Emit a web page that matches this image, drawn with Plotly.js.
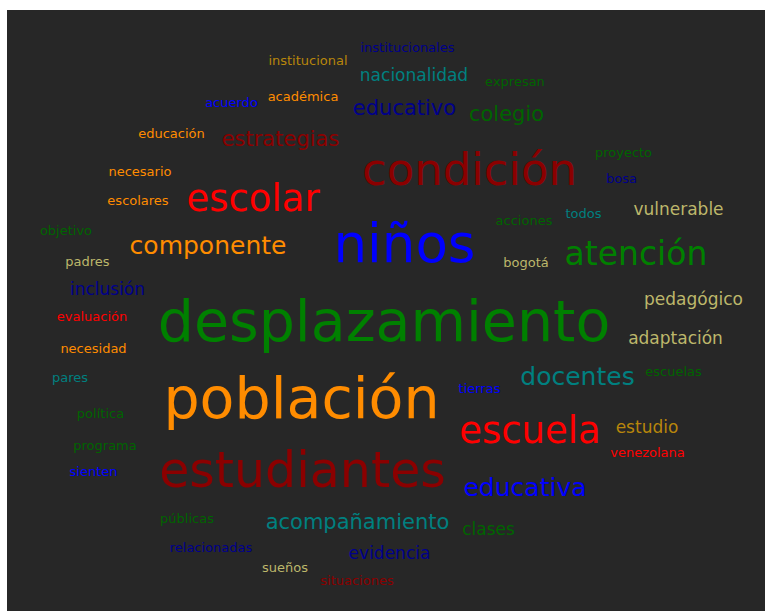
<!DOCTYPE html>
<html>
<head>
<meta charset="utf-8">
<script src="https://cdn.plot.ly/plotly-3.0.1.min.js"></script>
<style>html,body{margin:0;padding:0;background:#fff;}#chart{width:765px;height:611px;}</style>
</head>
<body>
<div id="chart"></div>
<script>
// Word cloud data: word, frequency weight, colour group, cloud position (x, baseline y)
var words = ["desplazamiento","población","niños","estudiantes","condición","escolar","escuela","atención","componente","docentes","educativa","acompañamiento","estrategias","educativo","colegio","nacionalidad","inclusión","vulnerable","pedagógico","adaptación","estudio","clases","evidencia","institucionales","institucional","expresan","acuerdo","académica","educación","proyecto","bosa","necesario","escolares","objetivo","padres","todos","acciones","bogotá","evaluación","necesidad","pares","política","programa","sienten","públicas","relacionadas","sueños","situaciones","escuelas","tierras","venezolana"];
var freq = [12,12,11,10,9,7,7,6,4,4,4,3,3,3,3,2,2,2,2,2,2,2,2,1,1,1,1,1,1,1,1,1,1,1,1,1,1,1,1,1,1,1,1,1,1,1,1,1,1,1,1];
var group = ["green","darkorange","blue","darkred","darkred","red","red","green","darkorange","teal","blue","teal","darkred","navy","darkgreen","teal","navy","darkkhaki","darkkhaki","darkkhaki","darkgoldenrod","darkgreen","navy","navy","darkgoldenrod","darkgreen","blue","darkorange","darkorange","darkgreen","navy","darkorange","darkorange","darkgreen","darkkhaki","teal","darkgreen","darkkhaki","red","darkorange","teal","darkgreen","darkgreen","blue","darkgreen","navy","darkkhaki","darkred","darkgreen","blue","red"];
var posX = [384,301.5,404.5,302.5,469.5,253,530,636,208,577.5,525,357.5,280.5,404.5,506.5,414,107.5,678.5,693.5,675.5,647,488.5,389.5,407.5,308,515,231.5,303,171.5,623.5,621.5,140,138,66,87.5,583.5,524,526,92,93.5,70,100.5,105,93.5,187,211,285,357,673.5,479.5,647.5];
var posBase = [341,418,262,487,185,211,443,265,254,385,496,529,146,115,121,81,295,215,305,344,433,535,559,52,65,86,107,101,138,157,183,176,205,235,266,218,225,267,321,353,382,418,450,476,523,552,572,585,376,393,457];

var palette = {
  green:"#008000", darkgreen:"#006400", teal:"#008080", navy:"#00008b", blue:"#0000ff",
  red:"#ff0000", darkred:"#8b0000", darkorange:"#ff8c00", darkkhaki:"#bdb76b", darkgoldenrod:"#b8860b"
};
var sizes = freq.map(function(f){ return 9 + 4*f; });
var colors = group.map(function(g){ return palette[g]; });
var ys = posBase.map(function(b,i){ return b - 0.25*sizes[i]; });

var trace = {
  type:"scatter", mode:"text",
  x: posX, y: ys, text: words,
  textposition:"middle center",
  textfont:{family:"DejaVu Sans, Verdana, sans-serif", size:sizes, color:colors},
  hoverinfo:"none", showlegend:false
};
var layout = {
  width:765, height:611,
  margin:{l:7,r:0,t:10,b:0,pad:0},
  paper_bgcolor:"#ffffff", plot_bgcolor:"#272727",
  xaxis:{range:[7,765], visible:false, fixedrange:true},
  yaxis:{range:[611,10], visible:false, fixedrange:true},
  showlegend:false
};
Plotly.newPlot("chart",[trace],layout,{staticPlot:true,displayModeBar:false});
</script>
</body>
</html>
